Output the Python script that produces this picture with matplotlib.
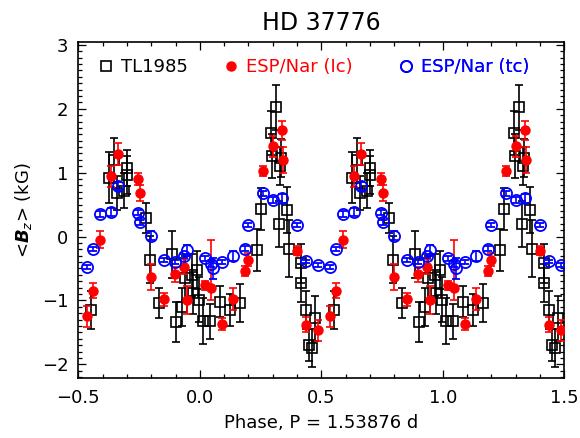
import matplotlib
matplotlib.use("Agg")
import matplotlib.pyplot as plt
from matplotlib.lines import Line2D
from matplotlib.ticker import MultipleLocator
import numpy as np

# ---- data (one rotation cycle, phase in [-0.5, 0.5)); plotted twice ----
tl_phase = [-0.449, -0.374, -0.353, -0.340, -0.312, -0.301, -0.299, -0.223, -0.205,
            -0.168, -0.116, -0.096, -0.075, -0.062, -0.034, -0.027, -0.011, -0.003,
            0.014, 0.044, 0.085, 0.126, 0.165, 0.234, 0.252, 0.293, 0.312, 0.296,
            0.329, 0.336, 0.326, 0.359, 0.367, 0.417, 0.418, 0.439, 0.448, 0.463, 0.473]
tl_bz = [-1.15, 0.92, 1.19, 0.68, 0.72, 1.07, 0.96, 0.29, -0.36,
         -1.04, -0.28, -1.34, -1.10, -0.65, -0.60, -0.89, -0.52, -0.99,
         -1.32, -1.33, -1.02, -1.15, -1.04, -0.21, 0.43, 1.62, 2.02, 1.26,
         1.10, 1.23, 0.19, 0.42, -0.19, -0.42, -0.73, -1.15, -1.70, -1.75, -1.28]
tl_err = [0.30, 0.40, 0.35, 0.26, 0.28, 0.28, 0.30, 0.24, 0.37,
          0.23, 0.37, 0.31, 0.30, 0.35, 0.33, 0.33, 0.30, 0.35,
          0.36, 0.27, 0.24, 0.25, 0.30, 0.33, 0.33, 0.35, 0.35, 0.35,
          0.30, 0.30, 0.36, 0.36, 0.45, 0.30, 0.30, 0.30, 0.25, 0.30, 0.35]

esp_phase = [-0.465, -0.439, -0.411, -0.367, -0.336, -0.256, -0.246, -0.202, -0.148,
             -0.102, -0.065, -0.053, 0.021, 0.046, 0.056, 0.093, 0.137, 0.185,
             0.200, 0.262, 0.302, 0.340, 0.342, 0.399, 0.439, 0.487]
ic_bz = [-1.25, -0.85, -0.05, 0.94, 1.29, 0.90, 0.68, -0.63, -0.98,
         -0.59, -0.47, -1.00, -0.76, -0.80, None, -1.37, -0.98, -0.54,
         -0.36, 1.03, 1.41, 1.66, 1.20, -0.22, -1.38, -1.47]
ic_err_lo = [0.17, 0.12, 0.13, 0.17, 0.17, 0.10, 0.12, 0.20, 0.10,
             0.12, 0.12, 0.22, 0.07, 0.19, None, 0.10, 0.17, 0.08,
             0.10, 0.08, 0.17, 0.15, 0.20, 0.07, 0.12, 0.16]
ic_err_hi = [0.17, 0.12, 0.13, 0.17, 0.17, 0.10, 0.12, 0.20, 0.10,
             0.12, 0.12, 0.22, 0.07, 0.75, None, 0.10, 0.17, 0.08,
             0.10, 0.08, 0.17, 0.15, 0.20, 0.07, 0.12, 0.16]
tc_bz = [-0.48, -0.20, 0.35, 0.38, 0.79, 0.37, 0.22, 0.01, -0.37,
         -0.40, -0.30, -0.21, -0.34, -0.43, -0.50, -0.40, -0.31, -0.19,
         0.18, 0.68, 0.57, 0.60, None, 0.18, -0.39, -0.44]
tc_err = [0.03, 0.03, 0.05, 0.06, 0.06, 0.04, 0.04, 0.07, 0.03,
          0.03, 0.03, 0.08, 0.04, 0.04, 0.17, 0.03, 0.08, 0.04,
          0.03, 0.04, 0.05, 0.07, None, 0.03, 0.03, 0.03]

x_ticks = [-0.5, 0.0, 0.5, 1.0, 1.5]
x_ticklabels = ["\u22120.5", "0.0", "0.5", "1.0", "1.5"]
y_ticks = [-2, -1, 0, 1, 2, 3]
y_ticklabels = ["\u22122", "\u22121", "0", "1", "2", "3"]

plt.rcParams['font.family'] = ['DejaVu Sans']
plt.rcParams['mathtext.fontset'] = 'dejavusans'

fig = plt.figure(figsize=(5.8, 4.38), dpi=100)
ax = fig.add_axes([78.3 / 580, 1 - 377.7 / 438, (564.3 - 78.3) / 580, (377.7 - 42.3) / 438])


def sel(ph, v, *errs):
    idx = [i for i, val in enumerate(v) if val is not None]
    out = [np.array([ph[i] for i in idx]), np.array([v[i] for i in idx])]
    for e in errs:
        out.append(np.array([e[i] for i in idx]))
    return out


tp, tv, te = sel(tl_phase, tl_bz, tl_err)
ip, iv, il, ih = sel(esp_phase, ic_bz, ic_err_lo, ic_err_hi)
cp, cv, ce = sel(esp_phase, tc_bz, tc_err)

for shift in (0.0, 1.0):
    ax.errorbar(tp + shift, tv, yerr=te, fmt='s', ms=7.5, mfc='none', mec='black',
                mew=1.2, ecolor='black', elinewidth=1.2, capsize=3, capthick=1.2, zorder=2)
    ax.errorbar(ip + shift, iv, yerr=[il, ih], fmt='o', ms=6.5, mfc='red', mec='red',
                ecolor='red', elinewidth=1.2, capsize=3, capthick=1.2, zorder=3)
    ax.errorbar(cp + shift, cv, yerr=ce, fmt='o', ms=8, mfc='none', mec='blue',
                mew=1.3, ecolor='blue', elinewidth=1.2, capsize=3, capthick=1.2, zorder=4)

ax.set_xlim(-0.5, 1.5)
ax.set_ylim(-2.21, 3.04)
ax.set_xticks(x_ticks)
ax.set_xticklabels(x_ticklabels)
ax.set_yticks(y_ticks)
ax.set_yticklabels(y_ticklabels)
ax.xaxis.set_minor_locator(MultipleLocator(0.1))
ax.yaxis.set_minor_locator(MultipleLocator(0.1))
ax.tick_params(which='both', direction='in', top=True, right=True, width=0.9,
               labelsize=13)
ax.tick_params(which='major', length=5.5)
ax.tick_params(which='minor', length=3)
ax.tick_params(axis='x', pad=8)
ax.tick_params(axis='y', pad=7)
for s in ax.spines.values():
    s.set_linewidth(1.2)

ax.set_xlabel("Phase, P = 1.53876 d", fontsize=13, labelpad=5)
ax.set_ylabel(r"<$\mathbfit{B}_{z}$> (kG)", fontsize=13, labelpad=6)
ax.set_title("HD 37776", fontsize=17, pad=9)

# legend entries placed individually
entries = [
    (Line2D([], [], ls='none', marker='s', ms=7.5, mfc='none', mec='black', mew=1.2), "TL1985", 'black', 106),
    (Line2D([], [], ls='none', marker='o', ms=6.5, mfc='red', mec='red'), "ESP/Nar (Ic)", 'red', 231),
    (Line2D([], [], ls='none', marker='o', ms=8, mfc='none', mec='blue', mew=1.3), "ESP/Nar (tc)", 'blue', 406),
]
fs = 13
em = fs * 100 / 72.0
for h, lab, col, xc in entries:
    x0 = (xc - 0.5 * em - 78.3) / (564.3 - 78.3)
    y0 = (377.7 - 67) / (377.7 - 42.3)
    leg = ax.legend([h], [lab], loc='center left', bbox_to_anchor=(x0, y0),
                    frameon=False, fontsize=fs, handlelength=1.0, handletextpad=0.35,
                    borderpad=0, borderaxespad=0, labelcolor=col)
    ax.add_artist(leg)

fig.savefig("out.png", dpi=100)
